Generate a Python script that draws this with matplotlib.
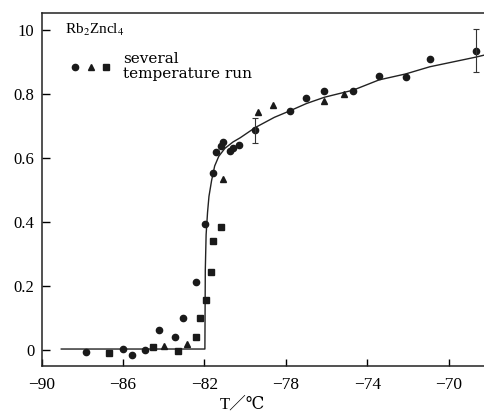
import numpy as np
import matplotlib
matplotlib.use("Agg")
import matplotlib.pyplot as plt
from matplotlib.legend_handler import HandlerTuple

plt.rcParams['font.family'] = ['Liberation Serif', 'DejaVu Serif', 'Noto Sans CJK SC']
plt.rcParams['mathtext.fontset'] = 'stix'

# measured points, three temperature runs
circ_T = [-87.8, -86.0, -85.55, -84.9, -84.22, -83.45, -83.05, -82.43, -81.96, -81.56,
          -81.43, -81.2, -81.07, -80.77, -80.58, -80.33, -79.51, -77.82, -77.01, -76.11,
          -74.69, -73.43, -72.13, -70.94, -68.69]
circ_y = [-0.007, 0.004, -0.017, 0.001, 0.061, 0.042, 0.099, 0.213, 0.393, 0.554,
          0.618, 0.637, 0.651, 0.623, 0.632, 0.640, 0.686, 0.747, 0.788, 0.808,
          0.808, 0.857, 0.852, 0.910, 0.935]

tri_T = [-83.99, -82.87, -81.07, -79.39, -78.62, -76.11, -75.16]
tri_y = [0.0125, 0.019, 0.534, 0.743, 0.764, 0.778, 0.799]

sq_T = [-86.68, -84.52, -83.32, -82.43, -82.23, -81.91, -81.69, -81.59, -81.18]
sq_y = [-0.010, 0.010, -0.003, 0.042, 0.100, 0.156, 0.243, 0.340, 0.384]

# error bars
err_T = [-79.51, -68.69]
err_y = [0.686, 0.935]
err_lo = [0.038, 0.065]
err_hi = [0.038, 0.067]

# fitted curve
fit_T = [-89.03, -81.98, -81.96, -81.92, -81.85, -81.78, -81.65, -81.5, -81.3, -81.0,
         -80.6, -80.25, -79.51, -78.57, -77.82, -77.0, -76.1, -74.7, -73.43, -72.13,
         -70.94, -68.69, -68.23]
fit_y = [0.003, 0.003, 0.25, 0.36, 0.43, 0.48, 0.53, 0.575, 0.605, 0.63,
         0.65, 0.663, 0.695, 0.727, 0.747, 0.77, 0.79, 0.812, 0.844, 0.8625,
         0.885, 0.915, 0.922]

xticks = [-90, -86, -82, -78, -74, -70]
yticks = [0, 0.2, 0.4, 0.6, 0.8, 1.0]
ytick_labels = ['0', '0.2', '0.4', '0.6', '0.8', '10']

fig = plt.figure(figsize=(4.85, 4.16), dpi=100)
ax = fig.add_axes([0.0856, 0.121, 0.9144, 0.8485])

ax.plot(fit_T, fit_y, color='#222222', lw=1.0)
h1, = ax.plot(circ_T, circ_y, 'o', color='#1a1a1a', ms=4.5, ls='none')
h2, = ax.plot(tri_T, tri_y, '^', color='#1a1a1a', ms=5, ls='none')
h3, = ax.plot(sq_T, sq_y, 's', color='#1a1a1a', ms=4.2, ls='none')
ax.errorbar(err_T, err_y, yerr=[err_lo, err_hi], fmt='none', ecolor='#333333',
            elinewidth=0.8, capsize=2, capthick=0.8)

ax.set_xlim(-90, -68.23)
ax.set_ylim(-0.049, 1.054)
ax.set_xticks(xticks)
ax.set_xticklabels([str(t).replace('-', '\u2212') for t in xticks])
ax.set_yticks(yticks)
ax.set_yticklabels(ytick_labels)
ax.tick_params(direction='in', width=1.0)
ax.tick_params(axis='x', length=5, pad=8, labelsize=12.5)
ax.tick_params(axis='y', length=6, pad=5, labelsize=12)
ax.spines['right'].set_visible(False)
for s in ['left', 'top', 'bottom']:
    ax.spines[s].set_linewidth(1.1)
    ax.spines[s].set_color('#222222')

ax.set_xlabel('T\uff0f\u2103', fontsize=12, va='center')
ax.xaxis.set_label_coords(0.452, -0.111)

ax.text(0.053, 0.951, r'Rb$_2$Zncl$_4$', transform=ax.transAxes, fontsize=11,
        va='center', ha='left')
leg = ax.legend([(h1, h2, h3)], ['several\ntemperature run'],
                handler_map={tuple: HandlerTuple(ndivide=None, pad=0.8)},
                loc='upper left', bbox_to_anchor=(0.071, 0.889), borderaxespad=0,
                borderpad=0, frameon=False, handlelength=2.3, handletextpad=1.0,
                prop={'family': 'DejaVu Serif', 'size': 11})
for t in leg.get_texts():
    t.set_linespacing(1.1)

plt.savefig('out.png', dpi=100)
